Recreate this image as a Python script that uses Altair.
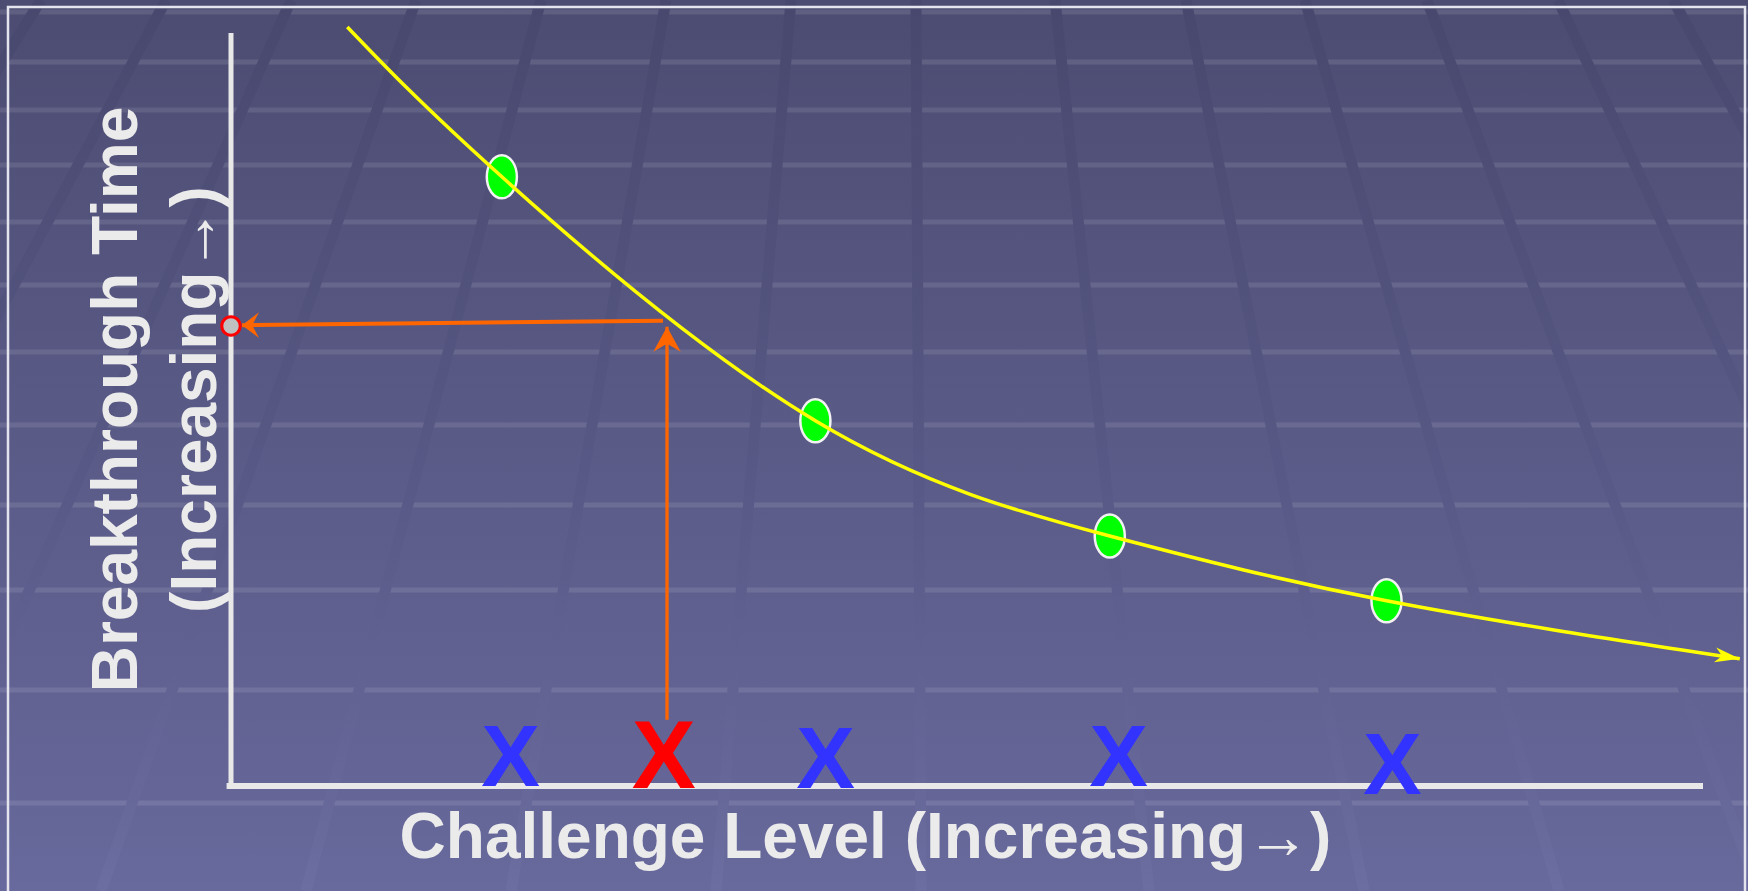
import altair as alt
import pandas as pd

# ---------------- canvas layout ----------------
W, H = 1748, 891
PL, PT, PR, PB = 231, 33, 45, 105
PW, PH = W - PL - PR, H - PT - PB

# ---------------- data ----------------
# yellow fitted curve (challenge level vs breakthrough time, arbitrary 0-10 units)
curve_x = [0.79, 1.84, 3.97, 5.97, 7.85, 10.25]
curve_y = [10.08, 8.09, 4.85, 3.32, 2.46, 1.69]

# measured points (green)
obs_x = [1.84, 3.97, 5.97, 7.85]
obs_y = [8.09, 4.85, 3.32, 2.46]

# challenge levels tested (X marks on the axis)
mark_text = ["X", "X", "X", "X", "X"]
mark_x = [1.90, 2.94, 4.04, 6.03, 7.89]
mark_y = [0.0, -0.03, -0.03, 0.0, -0.11]
mark_color = ["#3333ff", "#ff0000", "#3333ff", "#3333ff", "#3333ff"]
mark_size = [88, 96, 88, 88, 88]

# read-off construction (orange arrows + red point on the y axis)
target_x = 2.962
vert_y = [0.88, 6.10]
horiz_x = [2.935, 0.075]
horiz_y = [6.18, 6.12]
readout_x = [0.0]
readout_y = [6.11]

# titles
x_title = "Challenge Level (Increasing→)"
y_title = ["Breakthrough Time", "(Increasing→)"]

# background decoration (pixel positions on the 1748x891 canvas)
band_y = [12, 62, 110, 165, 222, 285, 352, 425, 505, 590, 690, 803]
diag_top = [41, 166, 291, 416, 541, 666, 791, 916, 1055, 1186, 1305, 1427, 1558, 1673]
diag_bot = [-514, -309, -104, 101, 306, 511, 716, 921, 1149, 1364, 1559, 1759, 1974, 2163]

FONT = "Liberation Sans"
TXT = "#ebebeb"

xs = alt.Scale(domain=[0, 10], nice=False, zero=False)
ys = alt.Scale(domain=[0, 10], nice=False, zero=False)

one = alt.Data(values=[{}])

# ---------------- background ----------------
bg = alt.Chart(one).mark_rect(
    fill=alt.Gradient(
        gradient="linear", x1=0, x2=0, y1=0, y2=1,
        stops=[alt.GradientStop(offset=0, color="#4c4c72"),
               alt.GradientStop(offset=1, color="#68699c")],
    )
).encode(x=alt.value(-PL), x2=alt.value(W - PL), y=alt.value(-PT), y2=alt.value(H - PT))

bands_df = pd.DataFrame({"py": [v - PT for v in band_y]})
bands = alt.Chart(bands_df).mark_rule(color="#ffffff", opacity=0.1, strokeWidth=5).encode(
    y=alt.Y("py:Q", scale=None, axis=None),
    x=alt.value(-PL), x2=alt.value(W - PL),
)

diag_df = pd.DataFrame({
    "x1": [v - PL for v in diag_top],
    "x2": [v - PL for v in diag_bot],
    "y1": [-PT] * len(diag_top),
    "y2": [H - PT] * len(diag_top),
})
diags = alt.Chart(diag_df).mark_rule(
    strokeWidth=11,
    stroke=alt.Gradient(
        gradient="linear", x1=0, x2=0, y1=0, y2=1,
        stops=[alt.GradientStop(offset=0, color="#48486e"),
               alt.GradientStop(offset=0.55, color="#585986"),
               alt.GradientStop(offset=1, color="#6c6da0")],
    ),
).encode(
    x=alt.X("x1:Q", scale=None, axis=None), x2="x2:Q",
    y=alt.Y("y1:Q", scale=None, axis=None), y2="y2:Q",
)

frame = alt.Chart(one).mark_rect(fill="transparent", stroke="#e4e4ee", strokeWidth=2.5).encode(
    x=alt.value(8 - PL), x2=alt.value(1745 - PL), y=alt.value(7 - PT), y2=alt.value(H + 40)
)

# ---------------- axes lines ----------------
yaxis_line = alt.Chart(pd.DataFrame({"x": [0.0], "y": [0.0], "y2": [10.0]})).mark_rule(
    color="#e8e8e8", strokeWidth=5
).encode(x=alt.X("x:Q", scale=xs, axis=None), y=alt.Y("y:Q", scale=ys, axis=None), y2="y2:Q")

xaxis_line = alt.Chart(pd.DataFrame({"x": [-0.03], "x2": [10.0], "y": [0.0]})).mark_rule(
    color="#e8e8e8", strokeWidth=6
).encode(x=alt.X("x:Q", scale=xs, axis=None), x2="x2:Q", y=alt.Y("y:Q", scale=ys, axis=None))

# ---------------- orange read-off arrows ----------------
vert_df = pd.DataFrame({"x": [target_x, target_x], "y": vert_y})
vert = alt.Chart(vert_df).mark_line(color="#ff6600", strokeWidth=3.3).encode(
    x=alt.X("x:Q", scale=xs, axis=None), y=alt.Y("y:Q", scale=ys, axis=None)
)
vert_head = alt.Chart(pd.DataFrame({"x": [target_x], "y": [vert_y[1]]})).mark_point(
    shape="M 0 0 L 0.55 1 L 0 0.68 L -0.55 1 Z", filled=True, fill="#ff6600",
    strokeWidth=0, opacity=1, size=2500, angle=0,
).encode(x=alt.X("x:Q", scale=xs, axis=None), y=alt.Y("y:Q", scale=ys, axis=None))

horiz_df = pd.DataFrame({"x": horiz_x, "y": horiz_y})
horiz = alt.Chart(horiz_df).mark_line(color="#ff6600", strokeWidth=4).encode(
    x=alt.X("x:Q", scale=xs, axis=None), y=alt.Y("y:Q", scale=ys, axis=None)
)
horiz_head = alt.Chart(pd.DataFrame({"x": [horiz_x[1]], "y": [horiz_y[1]]})).mark_point(
    shape="M 0 0 L 0.76 1 L 0 0.6 L -0.76 1 Z", filled=True, fill="#ff6600",
    strokeWidth=0, opacity=1, size=1156, angle=270,
).encode(x=alt.X("x:Q", scale=xs, axis=None), y=alt.Y("y:Q", scale=ys, axis=None))

readout = alt.Chart(pd.DataFrame({"x": readout_x, "y": readout_y})).mark_point(
    shape="circle", filled=True, fill="#c0c0c0", stroke="#ff0000", strokeWidth=3,
    opacity=1, size=340,
).encode(x=alt.X("x:Q", scale=xs, axis=None), y=alt.Y("y:Q", scale=ys, axis=None))

# ---------------- green points ----------------
obs_df = pd.DataFrame({"x": obs_x, "y": obs_y})
ellipse = "M -0.7 0 A 0.7 1 0 1 0 0.7 0 A 0.7 1 0 1 0 -0.7 0 Z"
points = alt.Chart(obs_df).mark_point(
    shape=ellipse, filled=True, fill="#00ff00", stroke="#f2f2f2", strokeWidth=2.5,
    opacity=1, size=1849,
).encode(x=alt.X("x:Q", scale=xs, axis=None), y=alt.Y("y:Q", scale=ys, axis=None))

# ---------------- yellow curve (carries the axis titles) ----------------
x_axis = alt.Axis(
    title=x_title, domain=False, ticks=False, labels=False, grid=False,
    titleFont=FONT, titleFontSize=64, titleFontWeight="bold", titleColor=TXT,
    titleX=634, titleY=71, titleAlign="center", titleBaseline="alphabetic", zindex=1,
)
y_axis = alt.Axis(
    title=y_title, domain=False, ticks=False, labels=False, grid=False,
    titleFont=FONT, titleFontSize=64, titleFontWeight="bold", titleColor=TXT,
    titleAngle=270, titleX=-95, titleY=366, titleAlign="center",
    titleBaseline="alphabetic", titleLineHeight=79, zindex=1,
)
curve_df = pd.DataFrame({"x": curve_x, "y": curve_y})
curve = alt.Chart(curve_df).mark_line(
    color="#ffff00", strokeWidth=3.5, interpolate="natural"
).encode(x=alt.X("x:Q", scale=xs, axis=x_axis), y=alt.Y("y:Q", scale=ys, axis=y_axis))

curve_head = alt.Chart(pd.DataFrame({"x": [curve_x[-1]], "y": [curve_y[-1]]})).mark_point(
    shape="M 0 0 L 0.3 1 L 0 0.72 L -0.3 1 Z", filled=True, fill="#ffff00",
    strokeWidth=0, opacity=1, size=2500, angle=99,
).encode(x=alt.X("x:Q", scale=xs, axis=None), y=alt.Y("y:Q", scale=ys, axis=None))

# ---------------- X marks ----------------
marks_df = pd.DataFrame({"t": mark_text, "x": mark_x, "y": mark_y, "c": mark_color, "s": mark_size})
xmarks = alt.Chart(marks_df).mark_text(
    font=FONT, fontWeight="bold", baseline="alphabetic", align="center"
).encode(
    x=alt.X("x:Q", scale=xs, axis=None), y=alt.Y("y:Q", scale=ys, axis=None),
    text="t:N", color=alt.Color("c:N", scale=None, legend=None),
    size=alt.Size("s:Q", scale=None, legend=None),
)

chart = alt.layer(
    bg, bands, diags, frame, yaxis_line, xaxis_line,
    vert, horiz, vert_head, horiz_head, points, curve, curve_head, readout, xmarks,
).resolve_axis(
    x="independent", y="independent"
).properties(
    width=PW, height=PH,
    padding={"left": PL, "top": PT, "right": PR, "bottom": PB},
    autosize="none", background="#4c4c72",
).configure_view(strokeWidth=0)

chart.save("out.html", embed_options={"renderer": "svg", "actions": False})
